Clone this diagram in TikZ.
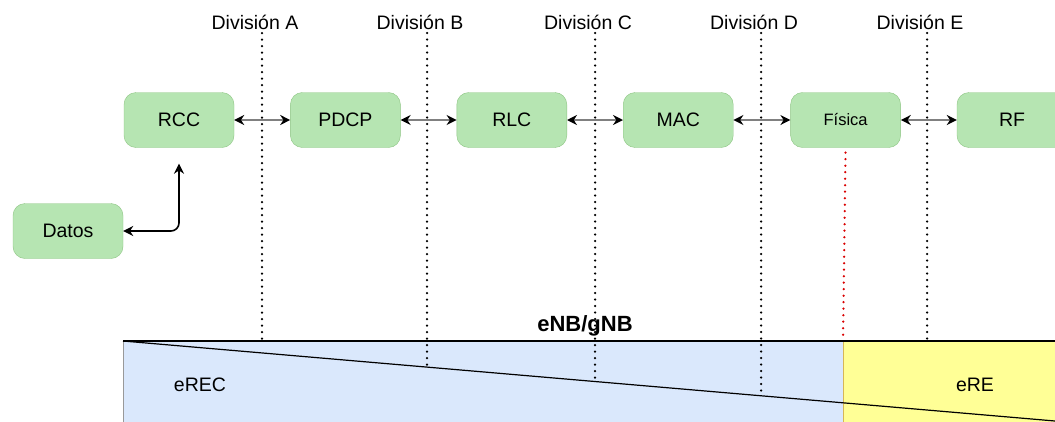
\documentclass[tikz,border=0pt]{standalone}
\usepackage{fontspec}
\setmainfont{Liberation Sans}
\usetikzlibrary{positioning, calc, arrows.meta}
\definecolor{capaverde}{RGB}{182,229,178}
\definecolor{capaborde}{RGB}{140,196,130}
\definecolor{azulrec}{RGB}{218,232,252}
\definecolor{amarillore}{RGB}{255,255,150}
\definecolor{bordere}{RGB}{214,182,86}
\tikzset{capa/.style={draw=capaborde, fill=capaverde, rounded corners=12pt, minimum width=110pt, minimum height=55pt, font=\fontsize{19.5}{22}\selectfont}}
\tikzset{enlace/.style={draw=black!50, line width=2pt, {Stealth[black, length=10pt, width=10pt]}-{Stealth[black, length=10pt, width=10pt]}}}
\tikzset{division/.style={dash pattern=on 0pt off 6.5pt, line cap=round, line width=2.5pt}}
\tikzset{rotulo/.style={font=\fontsize{19.5}{22}\selectfont}}

\begin{document}
\begin{tikzpicture}[x=1pt, y=1pt]
      \useasboundingbox (0,0) rectangle (1055,-421);

      % barra eNB/gNB
      \fill[azulrec] (123,-341) rectangle (843,-430);
      \fill[amarillore] (843,-341) rectangle (1065,-430);
      \draw[black!40] (123,-341) -- (123,-430);
      \draw[bordere] (843,-341) -- (843,-430);
      \draw[line width=1.2pt] (123,-341) -- (1065,-341);
      \draw[line width=1.2pt] (123,-341) -- ($(123,-341)!1.05!(1055,-421)$);
      \node[font=\bfseries\fontsize{22}{24}\selectfont] (enb) at (585,-326) {eNB/gNB};
      \node[rotulo] (erec) at (200,-385) {eREC};
      \node[rotulo] (ere) at (975,-385) {eRE};

      % divisiones
      \foreach \l/\x/\y in {A/262/341, B/427/368, C/595/382, D/761/397, E/927/341} {
        \node[rotulo] (div\l) at (\x-7,-22) {División \l};
        \coordinate (ini\l) at (\x,-33);
        \coordinate (fin\l) at (\x,-\y);
        \draw[division] (ini\l) -- (fin\l);
      }

      % capas
      \node[capa] (rcc) at (179,-120) {RCC};
      \node[capa] (pdcp) [right=56pt of rcc] {PDCP};
      \node[capa] (rlc) [right=56pt of pdcp] {RLC};
      \node[capa] (mac) [right=56pt of rlc] {MAC};
      \node[capa, font=\fontsize{16.5}{18}\selectfont] (fisica) [right=57pt of mac] {Física};
      \node[capa] (rf) [right=56pt of fisica] {RF};
      \node[capa] (datos) at (68,-231) {Datos};

      \coordinate (corte) at (843,-341);
      \draw[division, red!85!black, shorten <=5pt] (fisica.south) -- (corte);

      \draw[enlace] (rcc.east) -- (pdcp.west);
      \draw[enlace] (pdcp.east) -- (rlc.west);
      \draw[enlace] (rlc.east) -- (mac.west);
      \draw[enlace] (mac.east) -- (fisica.west);
      \draw[enlace] (fisica.east) -- (rf.west);
      \draw[enlace, draw=black, line width=1.6pt, rounded corners=8pt, shorten >=16pt] (datos.east) -| (rcc.south);

\end{tikzpicture}
\end{document}
